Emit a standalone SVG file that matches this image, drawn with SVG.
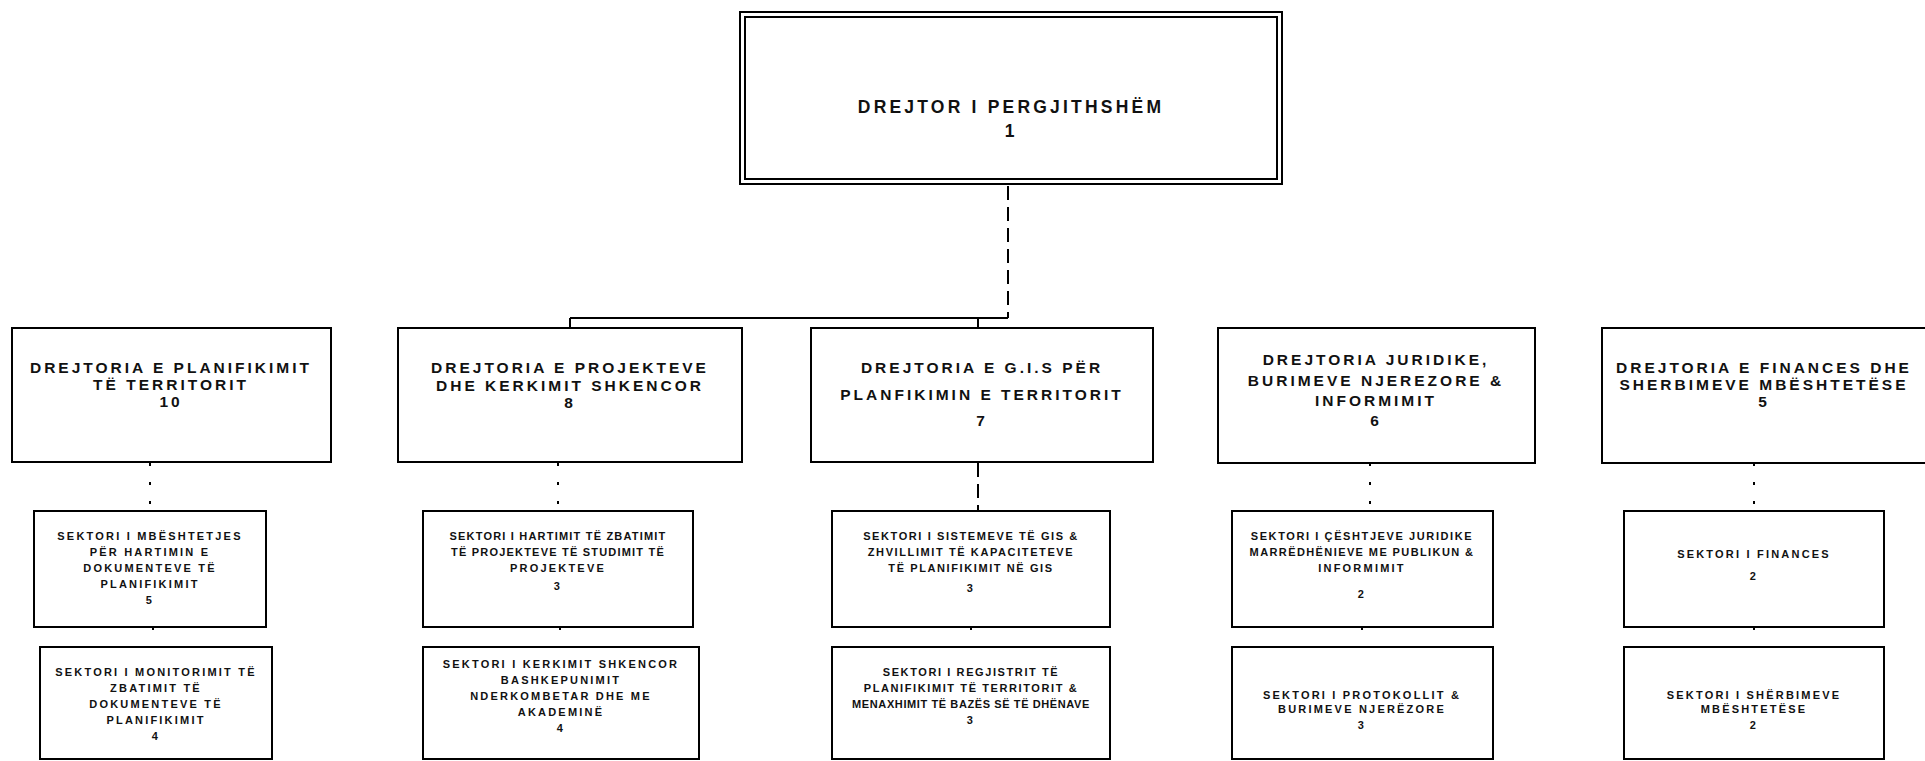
<svg xmlns="http://www.w3.org/2000/svg" width="1925" height="761" viewBox="0 0 1925 761">
<style>
.box{fill:#fff;stroke:#000;stroke-width:2}
.dt{font-family:"Liberation Sans",Arial,sans-serif;font-size:15.5px;font-weight:bold;fill:#111;text-anchor:middle;dominant-baseline:central;letter-spacing:3px}
.st{font-family:"Liberation Sans",Arial,sans-serif;font-size:11px;font-weight:bold;fill:#111;text-anchor:middle;dominant-baseline:central;letter-spacing:2.2px}
.con{fill:none;stroke:#000;stroke-width:2}
.dash{fill:none;stroke:#000;stroke-width:2;stroke-dasharray:14 7}
.dot{fill:none;stroke:#000;stroke-width:2;stroke-dasharray:3 16}
</style>
<rect width="1925" height="761" fill="#fff"/>
<g id="connectors">
<path class="dash" d="M1008 186 V318"/>
<path class="con" d="M570 318 H1008"/>
<path class="con" d="M570 318 V328"/>
<path class="con" d="M978 318 V328"/>
<path class="dot" d="M150 463 V511"/>
<path class="dot" d="M153 627 V647"/>
<path class="dot" d="M558 463 V511"/>
<path class="dot" d="M560 627 V647"/>
<path class="dash" d="M978 463 V511"/>
<path class="dot" d="M971 627 V647"/>
<path class="dot" d="M1370 463 V511"/>
<path class="dot" d="M1362 627 V647"/>
<path class="dot" d="M1754 463 V511"/>
<path class="dot" d="M1754 627 V647"/>
</g>
<g id="n-top">
<rect class="box" x="740" y="12" width="542" height="172"/>
<rect class="box" x="745" y="17" width="532" height="162"/>
<text class="dt" x="1011" y="107" style="font-size:17.5px;letter-spacing:3.2px">DREJTOR I PERGJITHSHËM</text>
<text class="dt" x="1011" y="131" style="font-size:17.5px">1</text>
</g>
<g id="n-d1">
<rect class="box" x="12" y="328" width="319" height="134"/>
<text class="dt" x="171" y="367">DREJTORIA E PLANIFIKIMIT</text>
<text class="dt" x="171" y="384">TË TERRITORIT</text>
<text class="dt" x="171" y="401">10</text>
</g>
<g id="n-d2">
<rect class="box" x="398" y="328" width="344" height="134"/>
<text class="dt" x="570" y="367">DREJTORIA E PROJEKTEVE</text>
<text class="dt" x="570" y="385">DHE KERKIMIT SHKENCOR</text>
<text class="dt" x="570" y="402">8</text>
</g>
<g id="n-d3">
<rect class="box" x="811" y="328" width="342" height="134"/>
<text class="dt" x="982" y="367">DREJTORIA E G.I.S PËR</text>
<text class="dt" x="982" y="394">PLANFIKIMIN E TERRITORIT</text>
<text class="dt" x="982" y="420">7</text>
</g>
<g id="n-d4">
<rect class="box" x="1218" y="328" width="317" height="135"/>
<text class="dt" x="1376" y="359">DREJTORIA JURIDIKE,</text>
<text class="dt" x="1376" y="380">BURIMEVE NJEREZORE &amp;</text>
<text class="dt" x="1376" y="400">INFORMIMIT</text>
<text class="dt" x="1376" y="420">6</text>
</g>
<g id="n-d5">
<rect class="box" x="1602" y="328" width="340" height="135"/>
<text class="dt" x="1764" y="367">DREJTORIA E FINANCES DHE</text>
<text class="dt" x="1764" y="384">SHERBIMEVE MBËSHTETËSE</text>
<text class="dt" x="1764" y="401">5</text>
</g>
<g id="n-s1a">
<rect class="box" x="34" y="511" width="232" height="116"/>
<text class="st" x="150" y="536">SEKTORI I MBËSHTETJES</text>
<text class="st" x="150" y="552">PËR HARTIMIN E</text>
<text class="st" x="150" y="568">DOKUMENTEVE TË</text>
<text class="st" x="150" y="584">PLANIFIKIMIT</text>
<text class="st" x="150" y="600">5</text>
</g>
<g id="n-s1b">
<rect class="box" x="40" y="647" width="232" height="112"/>
<text class="st" x="156" y="672">SEKTORI I MONITORIMIT TË</text>
<text class="st" x="156" y="688">ZBATIMIT TË</text>
<text class="st" x="156" y="704">DOKUMENTEVE TË</text>
<text class="st" x="156" y="720">PLANIFIKIMIT</text>
<text class="st" x="156" y="736">4</text>
</g>
<g id="n-s2a">
<rect class="box" x="423" y="511" width="270" height="116"/>
<text class="st" x="558" y="536" style="letter-spacing:1.2px">SEKTORI I HARTIMIT TË ZBATIMIT</text>
<text class="st" x="558" y="552" style="letter-spacing:1.2px">TË PROJEKTEVE TË STUDIMIT TË</text>
<text class="st" x="558" y="568">PROJEKTEVE</text>
<text class="st" x="558" y="586">3</text>
</g>
<g id="n-s2b">
<rect class="box" x="423" y="647" width="276" height="112"/>
<text class="st" x="561" y="664">SEKTORI I KERKIMIT SHKENCOR</text>
<text class="st" x="561" y="680">BASHKEPUNIMIT</text>
<text class="st" x="561" y="696">NDERKOMBETAR DHE ME</text>
<text class="st" x="561" y="712">AKADEMINË</text>
<text class="st" x="561" y="728">4</text>
</g>
<g id="n-s3a">
<rect class="box" x="832" y="511" width="278" height="116"/>
<text class="st" x="971" y="536" style="letter-spacing:1.6px">SEKTORI I SISTEMEVE TË GIS &amp;</text>
<text class="st" x="971" y="552" style="letter-spacing:1.6px">ZHVILLIMIT TË KAPACITETEVE</text>
<text class="st" x="971" y="568" style="letter-spacing:1.6px">TË PLANIFIKIMIT NË GIS</text>
<text class="st" x="971" y="588">3</text>
</g>
<g id="n-s3b">
<rect class="box" x="832" y="647" width="278" height="112"/>
<text class="st" x="971" y="672" style="letter-spacing:1.6px">SEKTORI I REGJISTRIT TË</text>
<text class="st" x="971" y="688" style="letter-spacing:1.6px">PLANIFIKIMIT TË TERRITORIT &amp;</text>
<text class="st" x="971" y="704" style="letter-spacing:0.6px">MENAXHIMIT TË BAZËS SË TË DHËNAVE</text>
<text class="st" x="971" y="720">3</text>
</g>
<g id="n-s4a">
<rect class="box" x="1232" y="511" width="261" height="116"/>
<text class="st" x="1362" y="536" style="letter-spacing:1.6px">SEKTORI I ÇËSHTJEVE JURIDIKE</text>
<text class="st" x="1362" y="552" style="letter-spacing:1.4px">MARRËDHËNIEVE ME PUBLIKUN &amp;</text>
<text class="st" x="1362" y="568">INFORMIMIT</text>
<text class="st" x="1362" y="594">2</text>
</g>
<g id="n-s4b">
<rect class="box" x="1232" y="647" width="261" height="112"/>
<text class="st" x="1362" y="695">SEKTORI I PROTOKOLLIT &amp;</text>
<text class="st" x="1362" y="709">BURIMEVE NJERËZORE</text>
<text class="st" x="1362" y="725">3</text>
</g>
<g id="n-s5a">
<rect class="box" x="1624" y="511" width="260" height="116"/>
<text class="st" x="1754" y="554">SEKTORI I FINANCES</text>
<text class="st" x="1754" y="576">2</text>
</g>
<g id="n-s5b">
<rect class="box" x="1624" y="647" width="260" height="112"/>
<text class="st" x="1754" y="695">SEKTORI I SHËRBIMEVE</text>
<text class="st" x="1754" y="709">MBËSHTETËSE</text>
<text class="st" x="1754" y="725">2</text>
</g>
</svg>
